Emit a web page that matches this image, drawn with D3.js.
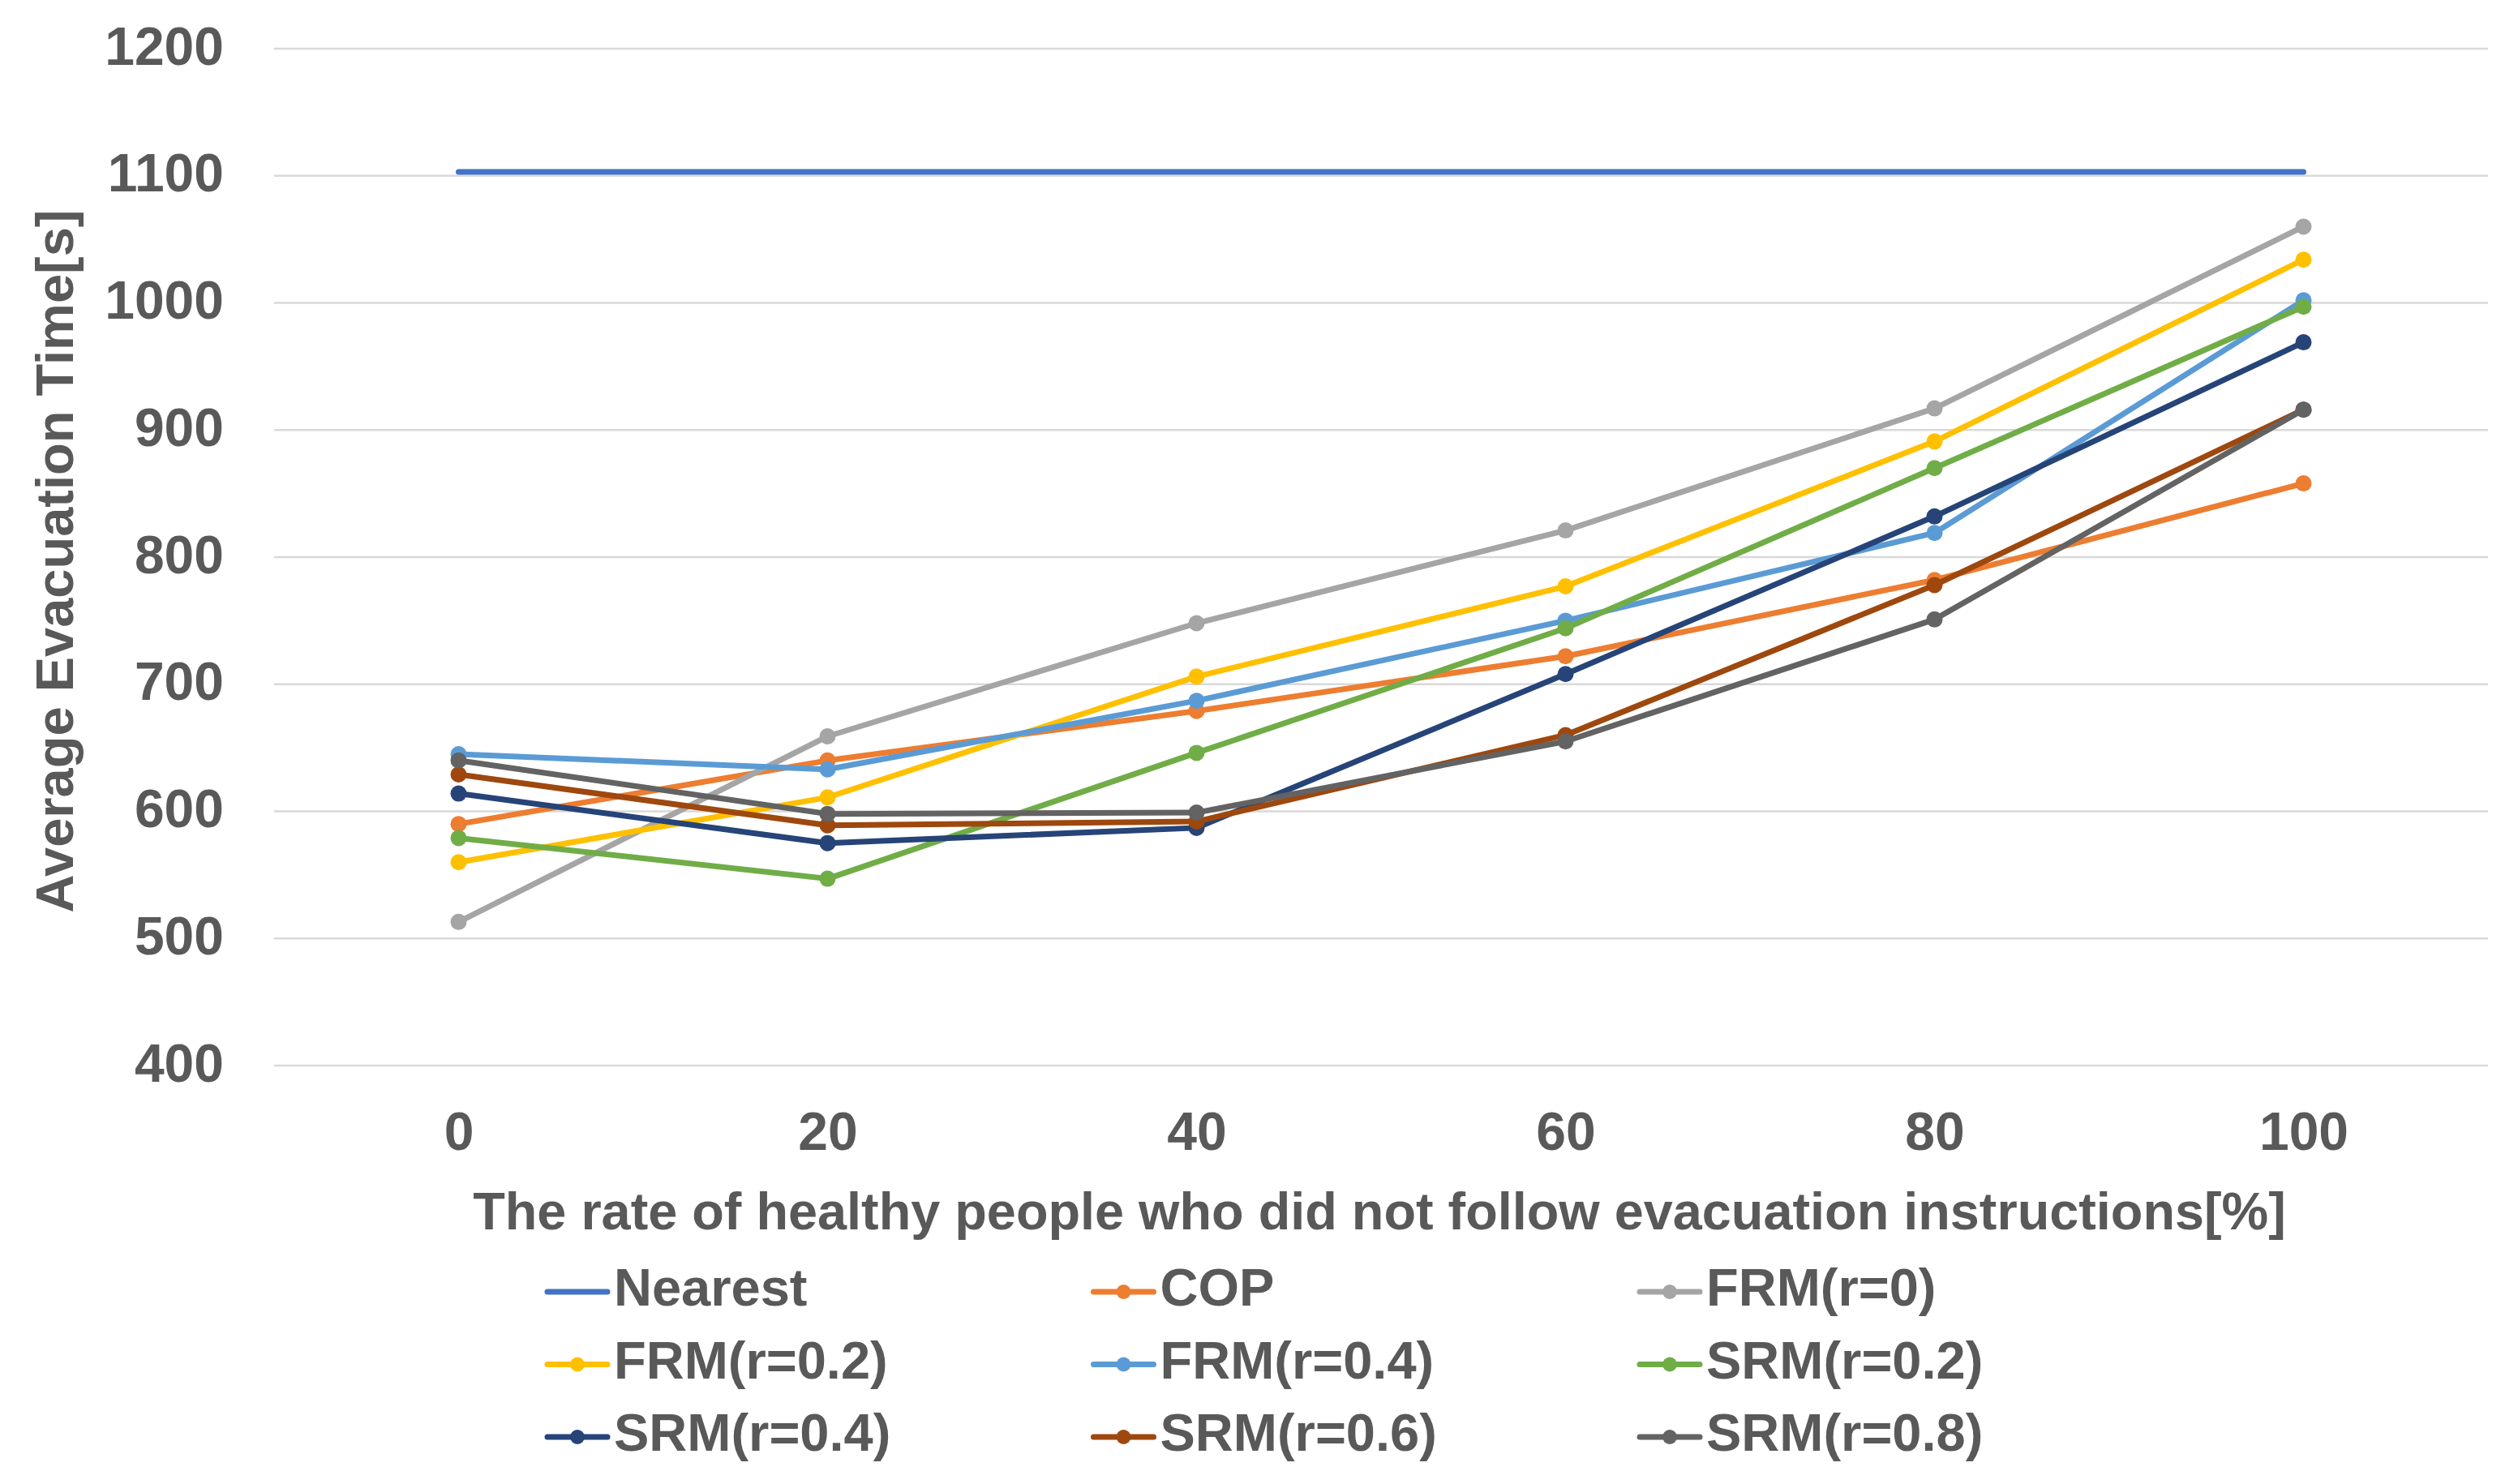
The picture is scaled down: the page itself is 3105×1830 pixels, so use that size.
<!DOCTYPE html>
<html>
<head>
<meta charset="utf-8">
<script src="https://cdn.jsdelivr.net/npm/d3@7"></script>
<style>
  body { margin: 0; background: #fff; }
  svg text { font-family: "Liberation Sans", Arial, sans-serif; font-weight: bold; fill: #595959; }
</style>
</head>
<body>
<svg id="graph" width="3105" height="1830"></svg>
<script>
// data
const rates = [0, 20, 40, 60, 80, 100];
const yTicks = [400, 500, 600, 700, 800, 900, 1000, 1100, 1200];

const nearest = [1103, 1103, 1103, 1103, 1103, 1103];
const cop     = [590, 640, 679, 722, 782, 858];
const frm0    = [513, 659, 748, 821, 917, 1060];
const frm02   = [560, 611, 706, 777, 891, 1034];
const frm04   = [645, 633, 687, 750, 819, 1002];
const srm02   = [579, 547, 646, 744, 870, 997];
const srm04   = [614, 575, 587, 708, 832, 969];
const srm06   = [629, 589, 592, 660, 778, 916];
const srm08   = [640, 598, 599, 655, 751, 916];

const series = [
    { name: "Nearest",    values: nearest, color: "#4472C4", marker: false },
    { name: "COP",        values: cop,     color: "#ED7D31", marker: true },
    { name: "FRM(r=0)",   values: frm0,    color: "#A5A5A5", marker: true },
    { name: "FRM(r=0.2)", values: frm02,   color: "#FFC000", marker: true },
    { name: "FRM(r=0.4)", values: frm04,   color: "#5B9BD5", marker: true },
    { name: "SRM(r=0.2)", values: srm02,   color: "#70AD47", marker: true },
    { name: "SRM(r=0.4)", values: srm04,   color: "#264478", marker: true },
    { name: "SRM(r=0.6)", values: srm06,   color: "#9E480E", marker: true },
    { name: "SRM(r=0.8)", values: srm08,   color: "#636363", marker: true },
];

const svg = d3.select("#graph");
const plot = { left: 338, right: 3068, top: 60, bottom: 1314 };

const x = d3.scalePoint().domain(rates).range([plot.left, plot.right]).padding(0.5);
const y = d3.scaleLinear().domain([400, 1200]).range([plot.bottom, plot.top]);

// gridlines
svg.append("g")
    .selectAll("line")
    .data(yTicks)
    .enter()
    .append("line")
    .attr("x1", plot.left)
    .attr("x2", plot.right)
    .attr("y1", d => y(d))
    .attr("y2", d => y(d))
    .attr("stroke", "#d9d9d9")
    .attr("stroke-width", 2.5);

// y axis labels
const yAxis = svg.append("g")
    .attr("transform", `translate(${plot.left - 62},0)`)
    .call(d3.axisLeft(y).tickValues(yTicks).tickFormat(d3.format("d")).tickSize(0).tickPadding(0));
yAxis.select(".domain").remove();
yAxis.selectAll("text")
    .attr("dy", 19)
    .style("font-size", "66px");

// x axis labels
const xAxis = svg.append("g")
    .attr("transform", "translate(0,1418)")
    .call(d3.axisBottom(x).tickSize(0).tickPadding(0));
xAxis.select(".domain").remove();
xAxis.selectAll("text")
    .attr("dy", 0)
    .style("font-size", "66px");

// axis titles
svg.append("text")
    .attr("transform", "translate(90,692) rotate(-90)")
    .attr("text-anchor", "middle")
    .style("font-size", "65px")
    .text("Average Evacuation Time[s]");

svg.append("text")
    .attr("x", 1701)
    .attr("y", 1516)
    .attr("text-anchor", "middle")
    .style("font-size", "64.8px")
    .text("The rate of healthy people who did not follow evacuation instructions[%]");

// lines and markers
const line = d3.line()
    .x((d, i) => x(rates[i]))
    .y(d => y(d));

series.forEach(function (s) {
    const g = svg.append("g");
    g.append("path")
        .attr("d", line(s.values))
        .attr("fill", "none")
        .attr("stroke", s.color)
        .attr("stroke-width", 7)
        .attr("stroke-linecap", "round")
        .attr("stroke-linejoin", "round");
    if (s.marker) {
        g.selectAll("circle")
            .data(s.values)
            .enter()
            .append("circle")
            .attr("cx", (d, i) => x(rates[i]))
            .attr("cy", d => y(d))
            .attr("r", 10)
            .attr("fill", s.color);
    }
});

// legend, 3 columns
const legend = svg.append("g");
series.forEach(function (s, i) {
    const col = i % 3;
    const row = Math.floor(i / 3);
    const lx = 675 + col * 673.5;
    const ly = 1610 + row * 89.5;
    const item = legend.append("g").attr("transform", `translate(${lx},${ly})`);
    item.append("line")
        .attr("x1", 0).attr("x2", 74)
        .attr("y1", -17).attr("y2", -17)
        .attr("stroke", s.color)
        .attr("stroke-width", 7)
        .attr("stroke-linecap", "round");
    if (s.marker) {
        item.append("circle")
            .attr("cx", 37).attr("cy", -17)
            .attr("r", 9)
            .attr("fill", s.color);
    }
    item.append("text")
        .attr("x", 82)
        .style("font-size", "65px")
        .text(s.name);
});
</script>
</body>
</html>
